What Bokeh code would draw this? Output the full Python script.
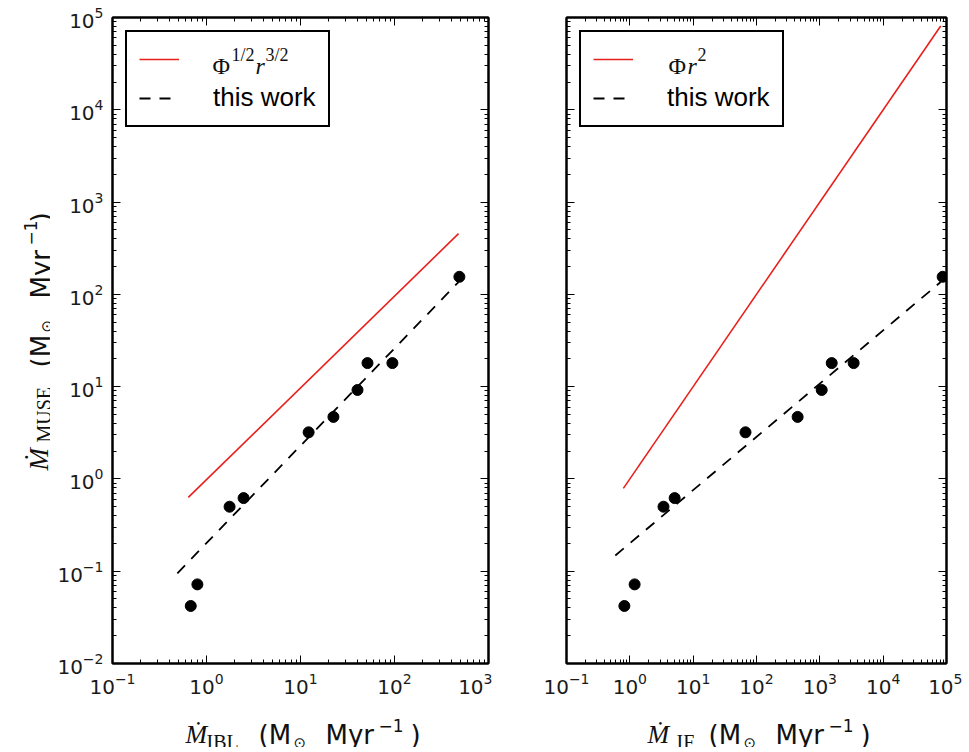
import math
from bokeh.plotting import figure
from bokeh.models import (Range1d, FixedTicker, LogAxis, Legend, LegendItem, Label,
                          CustomJSTickFormatter)
from bokeh.layouts import row, column
from bokeh.embed import file_html
from bokeh.resources import INLINE

# ---------------- data ----------------
mdot_muse = [0.042, 0.072, 0.50, 0.62, 3.2, 4.7, 9.2, 18.0, 18.0, 155.0]
mdot_ibl = [0.68, 0.80, 1.76, 2.48, 12.2, 22.4, 40.4, 51.6, 95.0, 490.0]
mdot_if = [0.82, 1.19, 3.4, 5.1, 67.0, 446.0, 1070.0, 1540.0, 3420.0, 87000.0]

ibl_model_x = [0.64, 480.0]      # Phi^{1/2} r^{3/2}
ibl_model_y = [0.63, 455.0]
ibl_fit_x = [0.49, 480.0]        # this work
ibl_fit_y = [0.095, 136.0]

if_model_x = [0.79, 81000.0]     # Phi r^2
if_model_y = [0.79, 81000.0]
if_fit_x = [0.59, 81000.0]       # this work
if_fit_y = [0.148, 136.0]

y_ticks = [1e-2, 1e-1, 1e0, 1e1, 1e2, 1e3, 1e4, 1e5]
ibl_ticks = [1e-1, 1e0, 1e1, 1e2, 1e3]
if_ticks = [1e-1, 1e0, 1e1, 1e2, 1e3, 1e4, 1e5]


def minors(ticks):
    out = []
    for t in ticks[:-1]:
        out += [m * t for m in range(2, 10)]
    return out


SANS = "DejaVu Sans"
SERIF = "Liberation Serif"
FRAME_H = 646
TOP = 17
BOTTOM = 42
XLAB_H = 42
YLAB_W = 50
BL1, FW1, BR1 = 112 - YLAB_W, 376, 4
BL2, FW2, BR2 = 74, 380, 16


def style_axis(ax, ticks, labels=True):
    ax.ticker = FixedTicker(ticks=ticks, minor_ticks=minors(ticks))
    ax.major_tick_in = 8
    ax.major_tick_out = 0
    ax.minor_tick_in = 4
    ax.minor_tick_out = 0
    ax.major_tick_line_color = "black"
    ax.minor_tick_line_color = "black"
    ax.axis_line_color = "black"
    ax.axis_line_width = 2
    if labels:
        ax.major_label_text_font = SANS
        ax.major_label_text_font_size = "20px"
        ax.major_label_text_color = "#1a1a1a"
        ax.major_label_standoff = 9
    else:
        ax.formatter = CustomJSTickFormatter(code="return ' '")
        ax.major_label_text_font_size = "2px"
        ax.major_label_standoff = 0


def txt(p, s, fx, fy, size, font=SANS, style="normal", angle=0.0):
    p.add_layout(Label(x=fx, y=fy, x_units="screen", y_units="screen", text=s,
                       text_font=font, text_font_size=f"{size}px",
                       text_font_style=style, text_align="left",
                       text_baseline="alphabetic", angle=angle,
                       text_color="#111111"))


def blank(fw, fh, bl, br, bt, bb):
    # text strip whose frame sits exactly where the text goes
    f = figure(frame_width=fw, frame_height=fh,
               x_range=Range1d(0, fw), y_range=Range1d(0, fh),
               min_border_left=bl, min_border_right=br,
               min_border_top=bt, min_border_bottom=bb,
               output_backend="svg", toolbar_location=None,
               x_axis_location=None, y_axis_location=None)
    f.xgrid.visible = False
    f.ygrid.visible = False
    f.outline_line_color = None
    return f


def panel(xs, xticks, model_x, model_y, fit_x, fit_y, frame_w, bl, br, ylabels):
    p = figure(x_axis_type="log", y_axis_type="log",
               x_range=Range1d(xticks[0], xticks[-1]),
               y_range=Range1d(y_ticks[0], y_ticks[-1]),
               frame_width=frame_w, frame_height=FRAME_H,
               min_border_left=bl, min_border_right=br,
               min_border_top=TOP, min_border_bottom=BOTTOM,
               output_backend="svg", toolbar_location=None)
    p.xgrid.visible = False
    p.ygrid.visible = False
    p.outline_line_color = "black"
    p.outline_line_width = 2
    style_axis(p.xaxis[0], xticks)
    style_axis(p.yaxis[0], y_ticks, labels=ylabels)
    top = LogAxis()
    style_axis(top, xticks, labels=False)
    p.add_layout(top, "above")
    right = LogAxis()
    style_axis(right, y_ticks, labels=False)
    p.add_layout(right, "right")

    r_model = p.line(model_x, model_y, line_color="#e8201c", line_width=1.6)
    r_fit = p.line(fit_x, fit_y, line_color="black", line_width=1.8, line_dash="11 9")
    p.scatter(xs, mdot_muse, size=11, fill_color="black", line_color="black")

    leg = Legend(items=[LegendItem(label=" ", renderers=[r_model]),
                        LegendItem(label="this work", renderers=[r_fit])],
                 location="top_left", margin=13, padding=12, spacing=8,
                 glyph_width=40, glyph_height=30, label_height=30,
                 label_standoff=34, label_text_font="Liberation Sans",
                 label_text_font_size="26px", label_text_color="black",
                 border_line_color="black", border_line_width=2,
                 border_line_alpha=1.0, background_fill_alpha=0.0)
    p.add_layout(leg, "center")
    return p


p1 = panel(mdot_ibl, ibl_ticks, ibl_model_x, ibl_model_y, ibl_fit_x, ibl_fit_y,
           FW1, BL1, BR1, True)
p2 = panel(mdot_if, if_ticks, if_model_x, if_model_y, if_fit_x, if_fit_y,
           FW2, BL2, BR2, False)

# legend math labels (positions relative to the plot frame)
txt(p1, "\u03A6", 100, 598, 24, SERIF)
txt(p1, "1/2", 119, 609, 18, SERIF)
txt(p1, "r", 143, 598, 24, SERIF, "italic")
txt(p1, "3/2", 153, 609, 18, SERIF)

txt(p2, "\u03A6", 102, 598, 24, SERIF)
txt(p2, "r", 121, 598, 24, SERIF, "italic")
txt(p2, "2", 131, 609, 18, SERIF)

# x axis label strips: same left/right borders as the panels above them
xl1 = blank(FW1, XLAB_H, BL1, BR1, 0, 0)
xl2 = blank(FW2, XLAB_H, BL2, BR2, 0, 0)


def xlabel(f, sub, x0, xsub, xp):
    txt(f, "\u1E40", x0, 13, 26, SERIF, "italic")
    txt(f, sub, xsub, 6, 20, SERIF)
    txt(f, "(M", xp, 13, 26)
    txt(f, "\u2299", xp + 35, 5, 15)
    txt(f, "Myr", xp + 67, 13, 26)
    txt(f, "\u22121", xp + 120, 22, 17)
    txt(f, ")", xp + 152, 13, 26)


xlabel(xl1, "IBL", 185 - 112, 206 - 112, 258 - 112)
xlabel(xl2, "IF", 647 - 566, 676 - 566, 708 - 566)

# y axis label strip: same top/bottom borders as the panels beside it
yl = blank(YLAB_W, FRAME_H, 0, 0, TOP, BOTTOM + XLAB_H)
FB = TOP + FRAME_H   # frame bottom, in picture pixels
A = math.pi / 2
txt(yl, "\u1E40", 38, FB - 470, 27, SERIF, "italic", A)
txt(yl, "MUSE", 43, FB - 442, 20, SERIF, "normal", A)
txt(yl, "(M", 40, FB - 367, 26, SANS, "normal", A)
txt(yl, "\u2299", 46, FB - 332, 15, SANS, "normal", A)
txt(yl, "Myr", 40, FB - 298, 26, SANS, "normal", A)
txt(yl, "\u22121", 30, FB - 245, 17, SANS, "normal", A)
txt(yl, ")", 40, FB - 222, 26, SANS, "normal", A)

layout = row(yl, column(p1, xl1), column(p2, xl2))
open("out.html", "w").write(file_html(layout, INLINE))
